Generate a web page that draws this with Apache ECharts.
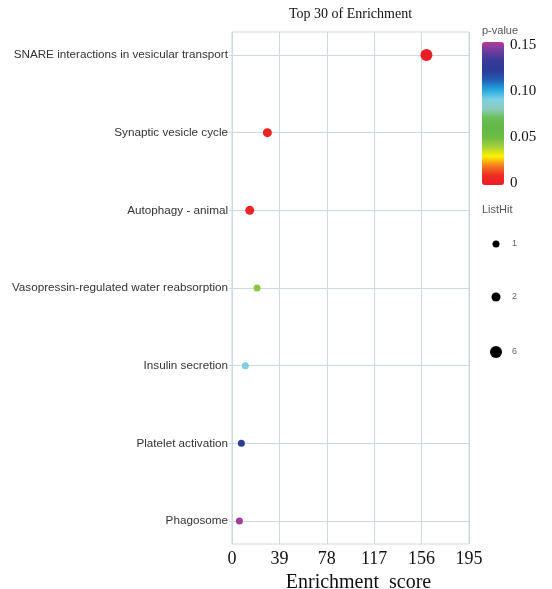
<!DOCTYPE html>
<html>
<head>
<meta charset="utf-8">
<script src="https://cdn.jsdelivr.net/npm/echarts@6/dist/echarts.min.js"></script>
<style>html,body{margin:0;padding:0;background:#fff;}#c{width:552px;height:589px;}</style>
</head>
<body>
<div id="c"></div>
<script>
const categories = ['SNARE interactions in vesicular transport','Synaptic vesicle cycle','Autophagy - animal','Vasopressin-regulated water reabsorption','Insulin secretion','Platelet activation','Phagosome'];
const scores = [160, 29.1, 14.6, 20.6, 11.0, 7.7, 6.1];
const pvalues = [0.001, 0.004, 0.006, 0.045, 0.088, 0.12, 0.148];
const listHits = [6, 2, 2, 1, 1, 1, 1];
const hitLevels = ['1', '2', '6'];
const pTickLabels = ['0', '0.05', '0.10', '0.15'];
const xMin = 0, xMax = 195, xStep = 39;

const hitSize = {'1': 7, '2': 9, '6': 12};
const grid = '#cbd9e3';
const serif = 'Liberation Serif';
const sans = 'Liberation Sans';

const series = hitLevels.map(h => ({
  type: 'scatter', name: h, xAxisIndex: 1, yAxisIndex: 1,
  symbolSize: hitSize[h],
  itemStyle: {opacity: 1},
  data: categories.map((c, i) => [scores[i], c, pvalues[i], listHits[i]]).filter(d => String(d[3]) === h),
  z: 5
}));

const legendTops = {'1': 243, '2': 297, '6': 352};
const dotX = 496, textX = 512;
const legends = hitLevels.map(h => ({
  data: [h], orient: 'vertical', left: dotX - hitSize[h] / 2, top: legendTops[h] - hitSize[h] / 2,
  itemWidth: hitSize[h], itemHeight: hitSize[h], icon: 'circle', padding: 0,
  selectedMode: false, itemStyle: {color: '#000'},
  textStyle: {fontFamily: sans, fontSize: 9, color: '#666',
              padding: [0, 0, 0, textX - (dotX + hitSize[h] / 2 + 5)]}
}));

const chart = echarts.init(document.getElementById('c'), null, {renderer: 'canvas'});
chart.setOption({
  animation: false,
  backgroundColor: '#fff',
  title: [
    {text: 'Top 30 of Enrichment', left: 350.5, textAlign: 'center', top: 7, padding: 0,
     textStyle: {fontFamily: serif, fontSize: 14, fontWeight: 'normal', color: '#111'}},
    {text: 'p-value', left: 482, top: 25, padding: 0,
     textStyle: {fontFamily: sans, fontSize: 11, fontWeight: 'normal', color: '#555'}},
    {text: 'ListHit', left: 482, top: 204, padding: 0,
     textStyle: {fontFamily: sans, fontSize: 11, fontWeight: 'normal', color: '#555'}}
  ],
  legend: legends,
  grid: [
    {left: 232, right: 83, top: 32, bottom: 45, show: true, borderColor: grid, borderWidth: 1, outerBoundsMode: 'none', containLabel: false},
    {left: 232, right: 83, top: 55, bottom: 68, outerBoundsMode: 'none', containLabel: false},
    {left: 482, width: 22, top: 45, bottom: 406, outerBoundsMode: 'none', containLabel: false}
  ],
  xAxis: [
    {type: 'value', gridIndex: 0, min: xMin, max: xMax, interval: xStep,
     axisLine: {show: false}, axisTick: {show: false},
     splitLine: {show: true, lineStyle: {color: grid, width: 1}},
     axisLabel: {fontFamily: serif, fontSize: 18, color: '#111', margin: 6},
     name: 'Enrichment  score', nameLocation: 'middle', nameGap: 27,
     nameTextStyle: {fontFamily: serif, fontSize: 20, color: '#111', padding: [0, 0, 0, 16]}},
    {type: 'value', gridIndex: 1, min: xMin, max: xMax, show: false},
    {type: 'value', gridIndex: 2, show: false}
  ],
  yAxis: [
    {type: 'value', gridIndex: 0, show: false},
    {type: 'category', gridIndex: 1, data: categories, inverse: true, boundaryGap: false,
     axisLine: {show: false},
     axisTick: {show: true, length: 3, lineStyle: {color: grid}},
     splitLine: {show: true, lineStyle: {color: grid, width: 1}},
     axisLabel: {fontFamily: sans, fontSize: 11.7, color: '#333', margin: 4, interval: 0}},
    {type: 'value', gridIndex: 2, min: 0, max: 0.15, interval: 0.05, position: 'right',
     axisLine: {show: false}, axisTick: {show: false}, splitLine: {show: false},
     axisLabel: {fontFamily: serif, fontSize: 15, color: '#111', margin: 6,
                 formatter: (v, i) => pTickLabels[i]}}
  ],
  visualMap: [{
    type: 'continuous', min: 0, max: 0.15, dimension: 2, seriesIndex: [0, 1, 2],
    orient: 'vertical', left: 482, top: 42, itemWidth: 22, itemHeight: 143,
    padding: 0, calculable: false, hoverLink: false, showLabel: false, text: null,
    inRange: {color: ['#ec1c24', '#ee2a24', '#f47a20', '#fff200', '#a6d13a', '#6cbd45',
                      '#62b946', '#6abc55', '#8ccbc0', '#7ccfe2', '#22a7e0', '#2060b5',
                      '#2d3a97', '#353a98', '#6a3d9d', '#b03c9d']}
  }],
  series: series
});
</script>
</body>
</html>
